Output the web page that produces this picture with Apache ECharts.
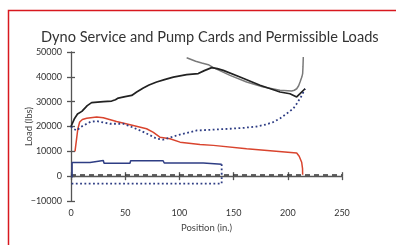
<!DOCTYPE html>
<html>
<head>
<meta charset="utf-8">
<script src="https://cdn.jsdelivr.net/npm/echarts@6/dist/echarts.min.js"></script>
<style>
  html, body { margin: 0; padding: 0; background: #fff; }
  #chart { width: 396px; height: 245px; }
</style>
</head>
<body>
<div id="chart"></div>
<script>
// ---- data: [position (in.), load (lbs)] ----
const surfaceUp = [[0,20000],[3,23000],[6,25000],[10,26100],[15,28400],[19,29600],[30,30000],[37.5,30250],[41,30800],[43.6,31450],[50,32000],[56,32500],[60.6,33900],[66.7,35500],[72,36700],[79,37900],[87,39000],[94.4,39900],[106.7,40900],[117.4,41300],[123,42500],[129.8,43700],[135,43300],[140.5,42600],[155.9,39900],[174.4,36600],[192.8,33900],[202,33200],[208.2,31900],[211.3,33200],[215.9,35200]];
const surfaceDown = [[0,20000],[2.5,19000],[5.3,18400],[9,19800],[14.5,21100],[18,21900],[23.7,22200],[30,21600],[36,21100],[48.3,21100],[56,19800],[63.7,18400],[72,16700],[79,15100],[85,14700],[91,15500],[97.4,16400],[103,17000],[109.7,17700],[116,18400],[130,18700],[146.7,19100],[160,19500],[171.3,20000],[180,20800],[186.6,21800],[193,23300],[199,25200],[205,27200],[208.2,29200],[212,31800],[215.9,35200]];
const permissibleMax = [[106.7,47700],[115,46300],[120.6,45600],[126.7,44900],[131.3,43700],[146.7,40600],[162,37900],[177.4,35900],[192.8,34600],[203.6,34300],[206,34600],[208.2,35200],[210,36400],[211.3,37900],[213,40000],[213.7,41300],[214,44000],[214.3,48000]];
const pumpUpper = [[3.7,10000],[5,14500],[6.3,19000],[8,21800],[10.5,22800],[14.5,23300],[23.7,23800],[29.8,23500],[42,22000],[57.4,20400],[69.7,19100],[76,17600],[82,15700],[91.3,15100],[100.6,13700],[119,12800],[131.3,12400],[162,11000],[208.2,9300],[210.5,8000],[212.8,5600],[213.6,3000],[213.7,600]];
const pumpLower = [[1,-500],[1,5500],[17.5,5500],[18,6300],[29.8,6300],[30.5,5200],[54.4,5200],[55,6200],[85,6200],[86,5300],[122,5300],[123,4800],[139,4800]];
const pumpLowerReturn = [[139,4800],[139,-3000],[0,-3000]];
const baseLine = [[0,500],[250,500]];

const xTicks = { min: 0, max: 250, interval: 50 };
const yTicks = { min: -10000, max: 50000, interval: 10000 };

const FONT = 'Lato, "DejaVu Sans", sans-serif';
const AXIS_GREY = '#555';

const chart = echarts.init(document.getElementById('chart'), null, { renderer: 'canvas' });

// two axes per direction so the ticks cross the axis line
function xAxisPair() {
  const base = {
    type: 'value', min: xTicks.min, max: xTicks.max, interval: xTicks.interval,
    splitLine: { show: false },
  };
  return [
    Object.assign({}, base, {
      name: 'Position (in.)', nameLocation: 'middle', nameGap: 22, nameMoveOverlap: false,
      nameTextStyle: { color: '#444', fontSize: 9.5, fontFamily: FONT },
      axisLine: { lineStyle: { color: AXIS_GREY, width: 1.3 } },
      axisTick: { length: 4, lineStyle: { color: AXIS_GREY, width: 1.3 } },
      axisLabel: { color: '#333', fontSize: 9, fontFamily: FONT, margin: 8 },
    }),
    Object.assign({}, base, {
      position: 'bottom',
      axisLine: { show: false },
      axisTick: { inside: true, length: 4, lineStyle: { color: AXIS_GREY, width: 1.3 } },
      axisLabel: { show: false },
    }),
  ];
}

function yAxisPair() {
  const base = {
    type: 'value', min: yTicks.min, max: yTicks.max, interval: yTicks.interval,
    splitLine: { show: false },
  };
  return [
    Object.assign({}, base, {
      name: 'Load (lbs)', nameLocation: 'middle', nameGap: 37, nameMoveOverlap: false,
      nameTextStyle: { color: '#444', fontSize: 9.5, fontFamily: FONT },
      axisLine: { show: true, lineStyle: { color: AXIS_GREY, width: 1.3 } },
      axisTick: { show: true, length: 4, lineStyle: { color: AXIS_GREY, width: 1.3 } },
      axisLabel: {
        color: '#333', fontSize: 9, fontFamily: FONT, margin: 9,
        formatter: (v) => String(v).replace('-', '\u2212'),
      },
    }),
    Object.assign({}, base, {
      position: 'left',
      axisLine: { show: false },
      axisTick: { show: true, inside: true, length: 4, lineStyle: { color: AXIS_GREY, width: 1.3 } },
      axisLabel: { show: false },
    }),
  ];
}

function line(data, color, width, type, z) {
  return {
    type: 'line', data, showSymbol: false, smooth: false, animation: false,
    xAxisIndex: 0, yAxisIndex: 0, z: z || 2,
    lineStyle: { color, width, type: type || 'solid' },
  };
}

chart.setOption({
  backgroundColor: '#fff',
  animation: false,
  title: {
    text: 'Dyno Service and Pump Cards and Permissible Loads',
    left: 36, top: 25,
    textStyle: { color: '#333', fontSize: 14.6, fontWeight: 'normal', fontFamily: FONT },
  },
  grid: { left: 71, right: 54, top: 52, bottom: 44 },
  xAxis: xAxisPair(),
  yAxis: yAxisPair(),
  graphic: [{
    type: 'rect', silent: true, z: 100,
    shape: { x: 8.5, y: 10.5, width: 420, height: 260 },
    style: { fill: 'none', stroke: '#d8181f', lineWidth: 1.5 },
  }],
  series: [
    line(baseLine, '#333', 1.5, [5, 4], 1),
    line(pumpLowerReturn, '#2e3d84', 1.8, [1.8, 2.5]),
    line(pumpLower, '#2e3d84', 1.5),
    line(pumpUpper, '#d9442e', 1.5),
    line(surfaceDown, '#2e3d84', 1.8, [1.8, 2.5]),
    line(permissibleMax, '#7a7a7a', 1.5),
    line(surfaceUp, '#222', 1.7, 'solid', 3),
  ],
});
</script>
</body>
</html>
